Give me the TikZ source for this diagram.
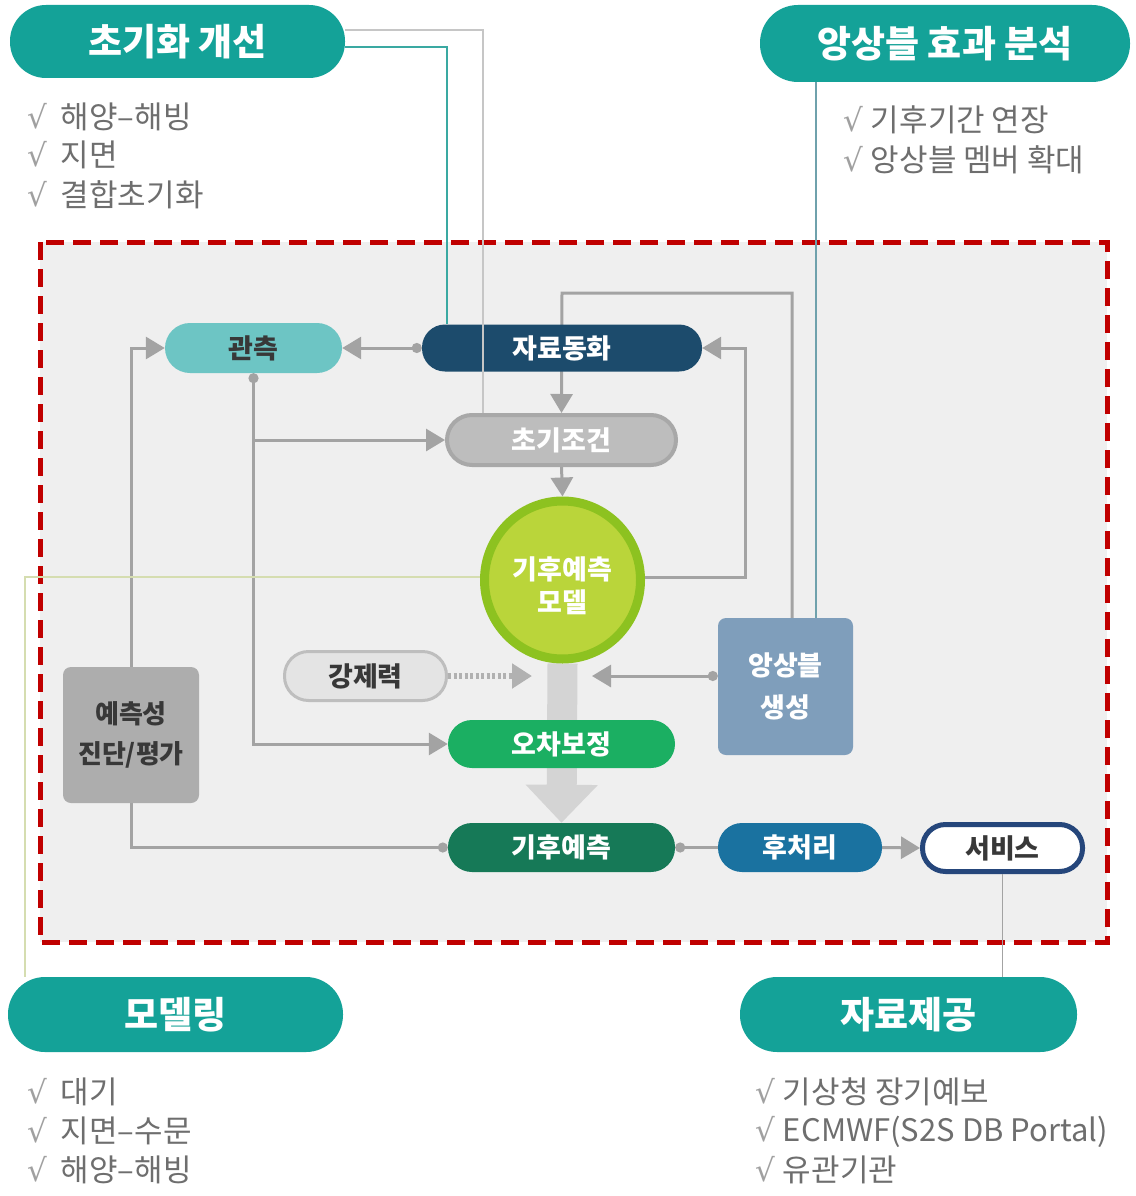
\documentclass[tikz,border=0pt]{standalone}
\usepackage{fontspec}
\setmainfont{Noto Sans CJK KR}
\newfontfamily\symfont{DejaVu Sans}
\usetikzlibrary{arrows.meta,calc,shapes.geometric}
\pgfdeclarelayer{back}
\pgfdeclarelayer{lines}
\pgfsetlayers{back,lines,main}
\definecolor{cTeal}{HTML}{14A298}
\definecolor{cObs}{HTML}{6DC5C4}
\definecolor{cDA}{HTML}{1C4B6C}
\definecolor{cIC}{HTML}{BDBDBD}
\definecolor{cICb}{HTML}{A8A8A8}
\definecolor{cModIn}{HTML}{BAD53A}
\definecolor{cModOut}{HTML}{8DC220}
\definecolor{cForce}{HTML}{E4E4E4}
\definecolor{cForceB}{HTML}{BEBEBE}
\definecolor{cEns}{HTML}{7F9EBB}
\definecolor{cBC}{HTML}{1BAF62}
\definecolor{cPred}{HTML}{ADADAD}
\definecolor{cCF}{HTML}{167957}
\definecolor{cPP}{HTML}{1A72A0}
\definecolor{cSvc}{HTML}{25467B}
\definecolor{cLine}{HTML}{A3A3A3}
\definecolor{cBig}{HTML}{D4D4D4}
\definecolor{cFrame}{HTML}{EFEFEF}
\definecolor{cRed}{HTML}{C00000}
\definecolor{cItem}{HTML}{6E6E6E}
\definecolor{cChk}{HTML}{A0A0A0}
\definecolor{cDark}{HTML}{383838}
\definecolor{cOlive}{HTML}{D5DDB0}
\definecolor{cTealLine}{HTML}{3AA9A2}
\definecolor{cEnsLine}{HTML}{6FA1AC}
\definecolor{cThin}{HTML}{C6C6C6}
\newcommand{\chk}{{\symfont\color{cChk}√}}
\begin{document}
\begin{tikzpicture}[x=1pt,y=-1pt,
  title/.style={fill=cTeal, text=white, inner sep=0pt, font=\bfseries\fontsize{37}{40}\selectfont},
  item/.style={anchor=west, inner sep=0pt, text=cItem, font=\fontsize{31}{34}\selectfont},
  box/.style={inner sep=0pt, align=center, font=\bfseries\fontsize{27}{30}\selectfont},
  conn/.style={draw=cLine, line width=3pt},
  tipA/.style={-{Triangle[length=19pt,width=22pt]}},
  dotB/.style={{Circle[length=10pt,width=10pt]}-{Triangle[length=19pt,width=22pt]}},
  thin/.style={line width=1.6pt}
]
\useasboundingbox (0,0) rectangle (1135,1196);
\begin{pgfonlayer}{back}
  \fill[white] (0,0) rectangle (1135,1196);
  \draw[fill=cFrame, draw=cRed, line width=5pt, dash pattern=on 18pt off 9pt] (40,242) rectangle (1107,942);
\end{pgfonlayer}

% title pills
\node[title, minimum width=335pt, minimum height=73pt, rounded corners=36pt] (t1) at (177.5,41.5) {초기화 개선};
\node[title, minimum width=370pt, minimum height=77pt, rounded corners=38pt] (t2) at (945,43.5) {앙상블 효과 분석};
\node[title, minimum width=335pt, minimum height=75pt, rounded corners=37pt] (t3) at (175.5,1014.5) {모델링};
\node[title, minimum width=337pt, minimum height=75pt, rounded corners=37pt] (t4) at (908.5,1014.5) {자료제공};

% lists
\node[item] (a1) at (27,117) {\chk\hspace{14pt}해양–해빙};
\node[item] (a2) at (27,155) {\chk\hspace{14pt}지면};
\node[item] (a3) at (27,195) {\chk\hspace{14pt}결합초기화};
\node[item] (b1) at (843,120) {\chk\hspace{8pt}기후기간 연장};
\node[item] (b2) at (843,160) {\chk\hspace{8pt}앙상블 멤버 확대};
\node[item] (c1) at (27,1092) {\chk\hspace{14pt}대기};
\node[item] (c2) at (27,1131) {\chk\hspace{14pt}지면–수문};
\node[item] (c3) at (27,1170) {\chk\hspace{14pt}해양–해빙};
\node[item] (d1) at (755,1092) {\chk\hspace{8pt}기상청 장기예보};
\node[item] (d2) at (755,1132) {\chk\hspace{8pt}ECMWF(S2S DB Portal)};
\node[item] (d3) at (755,1170) {\chk\hspace{8pt}유관기관};

% diagram nodes
\node[box, fill=cObs, text=cDark, minimum width=177pt, minimum height=50pt, rounded corners=25pt] (obs) at (253.5,348) {관측};
\node[box, fill=cDA, text=white, minimum width=280pt, minimum height=47pt, rounded corners=23pt] (da) at (562,348) {자료동화};
\node[box, fill=cIC, draw=cICb, line width=4pt, text=white, minimum width=229pt, minimum height=50pt, rounded corners=25pt] (ic) at (561.5,440) {초기조건};
\node[box, ellipse, fill=cModIn, draw=cModOut, line width=9pt, text=white, minimum width=156pt, minimum height=158pt, font=\bfseries\fontsize{27}{33}\selectfont] (model) at (562.5,580) {\rule{0pt}{34pt}기후예측\\모델};
\node[box, fill=cForce, draw=cForceB, line width=3pt, text=cDark, minimum width=162pt, minimum height=49pt, rounded corners=24pt] (force) at (365.5,676) {강제력};
\node[box, fill=cEns, text=white, minimum width=135pt, minimum height=137pt, rounded corners=8pt, font=\bfseries\fontsize{27}{42}\selectfont] (ens) at (785.5,686.5) {앙상블\\생성};
\node[box, fill=cBC, text=white, minimum width=227pt, minimum height=48pt, rounded corners=24pt] (bc) at (561.5,744) {오차보정};
\node[box, fill=cPred, text=cDark, minimum width=136pt, minimum height=136pt, rounded corners=8pt, font=\bfseries\fontsize{26}{40}\selectfont] (pred) at (131,735) {예측성\\진단/평가};
\node[box, fill=cCF, text=white, minimum width=227pt, minimum height=49pt, rounded corners=24pt] (cf) at (561.5,847.5) {기후예측};
\node[box, fill=cPP, text=white, minimum width=164pt, minimum height=49pt, rounded corners=24pt] (pp) at (800,847.5) {후처리};
\node[box, fill=white, draw=cSvc, line width=5pt, text=cDark, minimum width=160pt, minimum height=47pt, rounded corners=23pt] (svc) at (1002.5,848) {서비스};

\coordinate (fin) at (532,676);
\coordinate (ein) at (592,676);

\begin{pgfonlayer}{lines}
  % big arrow model -> climate prediction
  \draw[cBig, line width=30pt, -{Triangle[length=38pt,width=70pt]}] (model.south) -- (cf.north);
  % connectors
  \draw[conn, dotB] (da.west) -- (obs.east);
  \draw[conn, tipA] ([xshift=6.5pt]ens.north) |- (562,293) -- (ic.north);
  \draw[conn, dotB] (obs.south) |- (bc.west);
  \draw[conn, tipA] (obs.south |- ic.west) -- (ic.west);
  \draw[conn, tipA] (ic.south) -- (model.north);
  \draw[conn, tipA] ([yshift=3pt]model.east) -| ($(da.east)+(43,0)$) -- (da.east);
  \draw[conn, tipA] (pred.north) |- (obs.west);
  \draw[conn, -{Circle[length=10pt,width=10pt]}] (pred.south) |- (cf.west);
  \draw[cLine!85, line width=6pt, dash pattern=on 3pt off 2.5pt, -{Triangle[length=20pt,width=24pt]}] (force.east) -- (fin);
  \draw[conn, dotB] ([yshift=10.5pt]ens.west) -- (ein);
  \draw[conn, {Circle[length=10pt,width=10pt]}-] (cf.east) -- (pp.west);
  \draw[conn, tipA] (pp.east) -- (svc.west);
\end{pgfonlayer}

% thin link lines
\draw[cThin, thin] ([yshift=11.5pt]t1.east) -| ([xshift=-78.5pt]ic.north);
\draw[cTealLine, thin] ([yshift=-5.5pt]t1.east) -| ([xshift=-115pt]da.north);
\draw[cEnsLine, thin] ([xshift=-129pt]t2.south) -- ([xshift=30.5pt]ens.north);
\draw[cOlive, thin] ([yshift=3pt]model.west) -| ([xshift=-150.5pt]t3.north);
\draw[cLine, thin] (svc.south) -- (svc.south |- t4.north);
\end{tikzpicture}
\end{document}
